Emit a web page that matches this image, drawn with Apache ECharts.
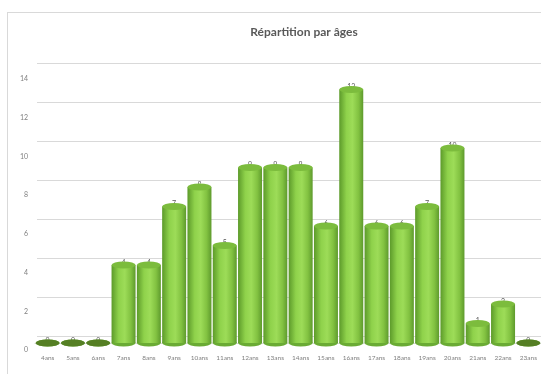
<!DOCTYPE html>
<html>
<head>
<meta charset="utf-8">
<script src="https://cdn.jsdelivr.net/npm/echarts@6/dist/echarts.min.js"></script>
<style>
  html, body { margin: 0; padding: 0; background: #ffffff; }
  #frame { position: absolute; left: 7px; top: 12px; width: 560px; height: 400px; border: 1px solid #d9d9d9; box-sizing: border-box; }
  #chart { position: absolute; left: 0; top: 0; width: 541px; height: 374px; }
</style>
</head>
<body>
<div id="frame"></div>
<div id="chart"></div>
<script>
// Age groups and head counts
const categories = ['4ans','5ans','6ans','7ans','8ans','9ans','10ans','11ans','12ans','13ans','14ans','15ans','16ans','17ans','18ans','19ans','20ans','21ans','22ans','23ans'];
const counts = [0,0,0,4,4,7,8,5,9,9,9,6,13,6,6,7,10,1,2,0];
const yTicks = [0,2,4,6,8,10,12,14];

const chart = echarts.init(document.getElementById('chart'), null, { renderer: 'canvas' });

// cylinder body shading, dark edges and a light band left of centre
const bodyGradient = new echarts.graphic.LinearGradient(0, 0, 1, 0, [
  { offset: 0, color: '#5c9a2a' },
  { offset: 0.3, color: '#8fd24b' },
  { offset: 0.55, color: '#9ddc58' },
  { offset: 0.8, color: '#82c241' },
  { offset: 1, color: '#5e9a2d' }
]);

const capData = counts.map(v => ({
  value: v,
  itemStyle: { color: v === 0 ? '#557f24' : '#7cbc3d' }
}));

const font = 'Lato, "Open Sans", sans-serif';

chart.setOption({
  animation: false,
  backgroundColor: 'transparent',
  title: {
    text: 'Répartition par âges',
    left: 299,
    textAlign: 'center',
    top: 21,
    textStyle: { fontFamily: font, fontSize: 12, fontWeight: 'bold', color: '#595959' }
  },
  grid: [
    // bars
    { left: 35, right: 0, top: 70, bottom: 31 },
    // back wall gridlines
    { left: 37, right: 0, top: 63, bottom: 38 },
    // value scale labels, read on the front plane
    { left: 35, right: 0, top: 79, bottom: 24 }
  ],
  xAxis: [
    {
      type: 'category', gridIndex: 0, data: categories, offset: 5,
      axisLine: { lineStyle: { color: '#d9d9d9' } },
      axisTick: { show: false },
      axisLabel: { fontFamily: font, fontSize: 6.5, color: '#808080', margin: 6, interval: 0 }
    },
    { type: 'category', gridIndex: 1, data: categories, show: false },
    { type: 'category', gridIndex: 2, data: categories, show: false }
  ],
  yAxis: [
    {
      type: 'value', gridIndex: 0, min: 0, max: 14, interval: 2, show: false
    },
    {
      type: 'value', gridIndex: 1, min: 0, max: 14, interval: 2,
      axisLine: { show: false }, axisTick: { show: false },
      axisLabel: { show: false },
      splitLine: { lineStyle: { color: '#d9d9d9', width: 1 } }
    },
    {
      type: 'value', gridIndex: 2, min: 0, max: 14, interval: 2,
      axisLine: { show: false }, axisTick: { show: false },
      splitLine: { show: false },
      axisLabel: {
        fontFamily: font, fontSize: 7, color: '#808080', margin: 7,
        formatter: v => (yTicks.includes(v) ? String(v) : '')
      }
    }
  ],
  series: [
    {
      type: 'bar', xAxisIndex: 0, yAxisIndex: 0,
      data: counts, barWidth: 24, z: 2,
      itemStyle: { color: bodyGradient },
      label: {
        show: true, position: 'top', distance: -1,
        fontFamily: font, fontSize: 7, color: '#595959'
      }
    },
    {
      type: 'pictorialBar', xAxisIndex: 0, yAxisIndex: 0,
      data: counts, symbol: 'circle', symbolSize: [24, 7],
      symbolPosition: 'start', symbolOffset: [0, '50%'], z: 1,
      itemStyle: { color: '#6aab34' }
    },
    {
      type: 'pictorialBar', xAxisIndex: 0, yAxisIndex: 0,
      data: capData, symbol: 'circle', symbolSize: [24, 7],
      symbolPosition: 'end', symbolOffset: [0, '-50%'], z: 3
    }
  ]
});
</script>
</body>
</html>
